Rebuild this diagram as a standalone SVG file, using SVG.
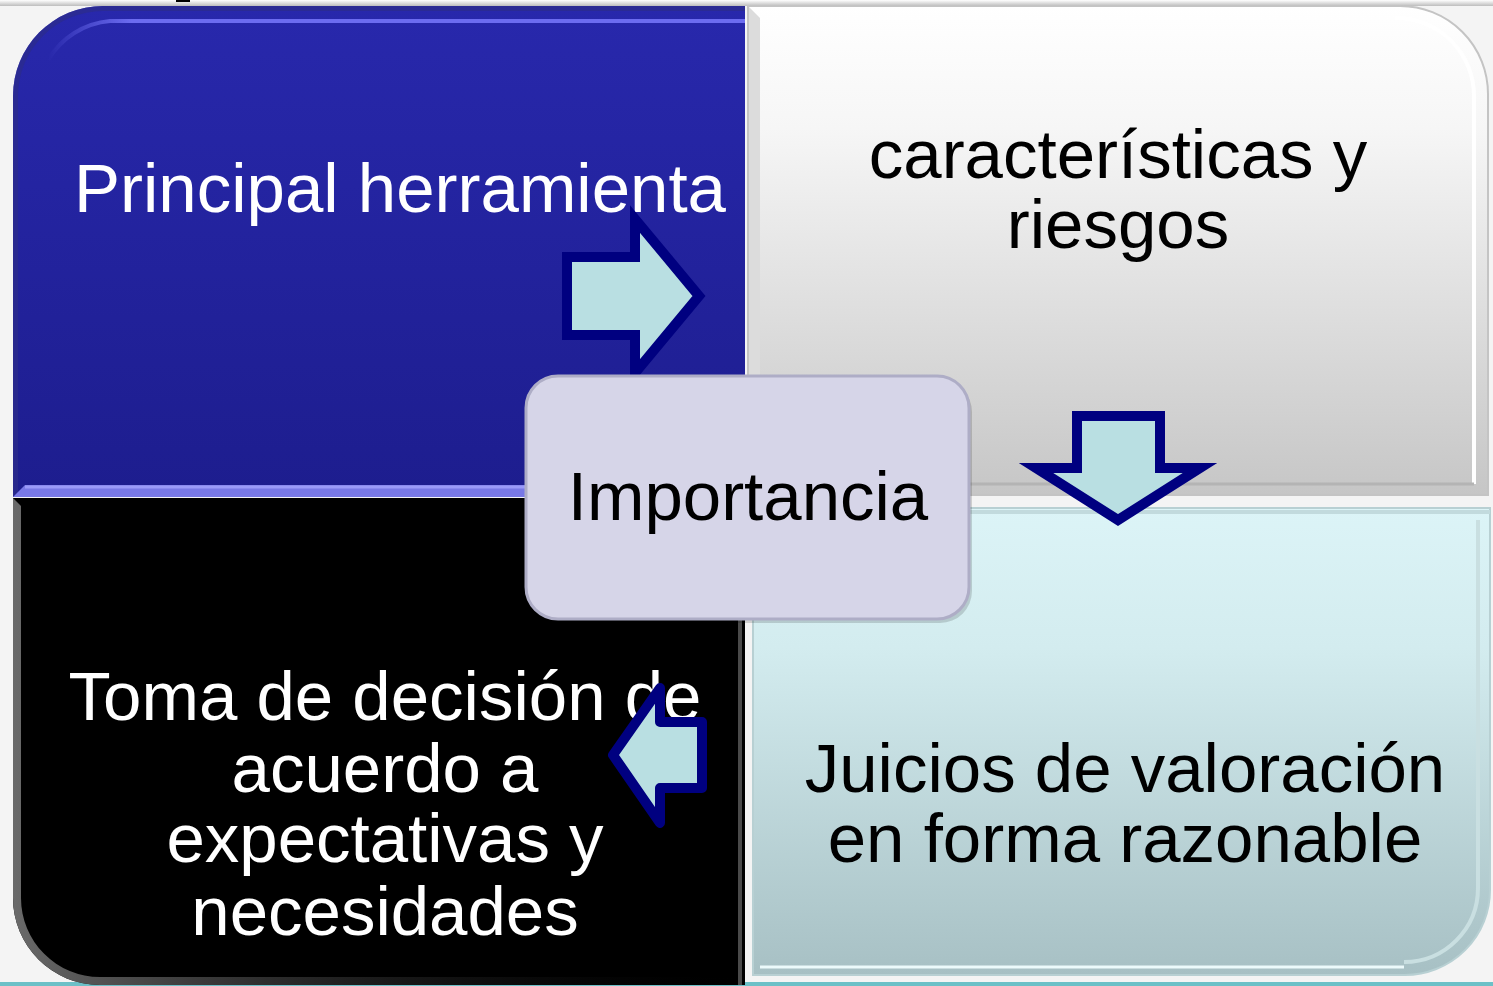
<svg xmlns="http://www.w3.org/2000/svg" width="1493" height="986" viewBox="0 0 1493 986">
  <defs>
    <linearGradient id="gBlue" x1="0" y1="0" x2="0" y2="1">
      <stop offset="0" stop-color="#2828ac"/>
      <stop offset="1" stop-color="#1d1d8e"/>
    </linearGradient>
    <linearGradient id="gGray" x1="0" y1="0" x2="0" y2="1">
      <stop offset="0" stop-color="#ffffff"/>
      <stop offset="0.25" stop-color="#f6f6f6"/>
      <stop offset="1" stop-color="#c6c6c6"/>
    </linearGradient>
    <linearGradient id="gCyan" x1="0" y1="0" x2="0" y2="1">
      <stop offset="0" stop-color="#dcf4f7"/>
      <stop offset="0.3" stop-color="#d3ecef"/>
      <stop offset="1" stop-color="#a7c0c4"/>
    </linearGradient>
    <linearGradient id="gBlackEdge" x1="0" y1="0" x2="1" y2="0">
      <stop offset="0" stop-color="#6a6a6a"/>
      <stop offset="1" stop-color="#000000" stop-opacity="0"/>
    </linearGradient>
    <linearGradient id="gHi" x1="0" y1="0" x2="1" y2="0">
      <stop offset="0" stop-color="#6c6cf0" stop-opacity="0"/>
      <stop offset="0.12" stop-color="#6c6cf0" stop-opacity="1"/>
      <stop offset="1" stop-color="#6c6cf0" stop-opacity="1"/>
    </linearGradient>
    <linearGradient id="gTop" x1="0" y1="0" x2="0" y2="1">
      <stop offset="0" stop-color="#ffffff"/>
      <stop offset="1" stop-color="#bdbdbd"/>
    </linearGradient>
    <style>
      .lbl { font-family: "Liberation Sans", Arial, sans-serif; font-size: 69px; text-anchor: middle; }
      .w { fill: #ffffff; }
      .k { fill: #000000; }
      .arrow { fill: #b9dfe2; stroke: #000080; stroke-width: 10; }
    </style>
  </defs>

  <rect x="0" y="0" width="1493" height="986" fill="#f4f4f4"/>
  <rect x="0" y="0" width="1493" height="6" fill="url(#gTop)"/>
  <rect x="176" y="0" width="14" height="2" fill="#000000"/>
  <rect x="0" y="982" width="1493" height="4" fill="#6cc0c7"/>

  <g id="node-tl">
    <path d="M13,96 A90 90 0 0 1 103,6 L745,6 L745,497 L13,497 Z" fill="url(#gBlue)"/>
    <path d="M13,96 A90 90 0 0 1 103,6 L745,6 L745,11 L103,11 A85 85 0 0 0 18,96 L18,497 L13,497 Z" fill="#2c2c8a" opacity="0.7"/>
    <path d="M48,60 A80 80 0 0 1 110,21 L745,21" fill="none" stroke="url(#gHi)" stroke-width="4"/>
    <polygon points="13,497 25,485 745,485 745,497" fill="#7878e6"/>
    <line x1="25" y1="487" x2="745" y2="487" stroke="#9a9af8" stroke-width="3"/>
    <text class="lbl w" x="400" y="212">Principal herramienta</text>
  </g>

  <g id="node-tr">
    <path d="M748,6 L1400,6 A88 88 0 0 1 1488,94 L1488,495 L748,495 Z" fill="url(#gGray)" stroke="#c4c4c4" stroke-width="2"/>
    <polygon points="749,7 760,18 760,484 749,495" fill="#dcdcdc"/>
    <path d="M1395,18 A78 78 0 0 1 1474,96 L1474,484" fill="none" stroke="#ffffff" stroke-width="4"/>
    <line x1="760" y1="484" x2="1474" y2="484" stroke="#b4b4b4" stroke-width="3"/>
    <text class="lbl k" x="1118" y="178">características y</text>
    <text class="lbl k" x="1118" y="248">riesgos</text>
  </g>

  <g id="node-bl">
    <path d="M13,498 L745,498 L745,985 L100,985 A87 87 0 0 1 13,898 Z" fill="#000000"/>
    <path d="M13,498 L21,506 L21,898 A79 79 0 0 0 100,977 L745,977 L745,985 L100,985 A87 87 0 0 1 13,898 Z" fill="url(#gBlackEdge)"/>
    <line x1="740" y1="498" x2="740" y2="985" stroke="#4a4a4a" stroke-width="4"/>
    <text class="lbl w" x="385" y="720">Toma de decisión de</text>
    <text class="lbl w" x="385" y="792">acuerdo a</text>
    <text class="lbl w" x="385" y="862">expectativas y</text>
    <text class="lbl w" x="385" y="935">necesidades</text>
  </g>

  <g id="node-br">
    <path d="M753,508 L1490,508 L1490,890 A85 85 0 0 1 1405,975 L753,975 Z" fill="url(#gCyan)" stroke="#b8d0d3" stroke-width="2"/>
    <line x1="753" y1="512" x2="1490" y2="512" stroke="#c2dadd" stroke-width="4"/>
    <path d="M1478,520 L1478,888 A74 74 0 0 1 1404,962" fill="none" stroke="#c9dfe1" stroke-width="4"/>
    <line x1="760" y1="967" x2="1404" y2="967" stroke="#ecfafb" stroke-width="3"/>
    <text class="lbl k" x="1125" y="792">Juicios de valoración</text>
    <text class="lbl k" x="1125" y="862">en forma razonable</text>
  </g>

  <g id="connectors">
    <polygon class="arrow" stroke-linejoin="miter" points="567,257 635,257 635,219 699,296 635,373 635,335 567,335"/>
    <polygon class="arrow" stroke-linejoin="miter" points="1077,416 1160,416 1160,468 1200,468 1118,520 1036,468 1077,468"/>
    <polygon class="arrow" stroke-linejoin="round" points="702,722 660,722 660,688 613,755 660,823 660,788 702,788"/>
  </g>

  <g id="node-center">
    <rect x="529" y="380" width="443" height="243" rx="32" fill="#000000" opacity="0.15"/>
    <rect x="526" y="376" width="443" height="243" rx="32" fill="#d6d5e8" stroke="#aeadc6" stroke-width="3"/>
    <text class="lbl k" x="748" y="520">Importancia</text>
  </g>
</svg>
